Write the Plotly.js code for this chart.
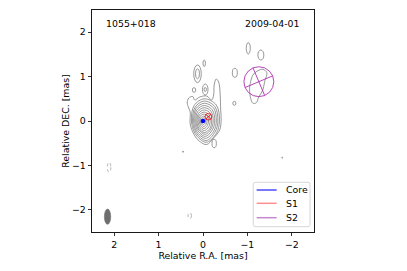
<!DOCTYPE html>
<html>
<head>
<meta charset="utf-8">
<script src="https://cdn.plot.ly/plotly-3.0.1.min.js"></script>
<style>html,body{margin:0;padding:0;background:#fff;}#plot{width:407px;height:271px;}</style>
</head>
<body>
<div id="plot"></div>
<script>
// ---- data (mas) ----
var sourceName = "1055+018";
var epoch = "2009-04-01";
var xTicks = [2, 1, 0, -1, -2];
var yTicks = [-2, -1, 0, 1, 2];

// core contour levels (outer -> inner), closed loops
var coreLvl0X = [0.074,-0.083,-0.196,-0.24,-0.252,-0.297,-0.353,-0.387,-0.398,-0.409,-0.375,-0.24,-0.083,0.074,0.209,0.288,0.288,0.321,0.355,0.321,0.231,0.187,0.074];
var coreLvl0Y = [0.54,0.563,0.473,0.586,0.81,0.946,0.878,0.586,0.248,0.023,-0.203,-0.383,-0.53,-0.46,-0.293,-0.068,0.203,0.293,0.405,0.518,0.552,0.473,0.54];
var coreLvl1X = [-0.03,-0.30,-0.37,-0.30,-0.07,0.18,0.26,0.20,-0.03];
var coreLvl1Y = [0.50,0.36,0,-0.28,-0.48,-0.28,0,0.35,0.50];
var coreLvl2X = [-0.03,-0.27,-0.335,-0.27,-0.07,0.165,0.235,0.175,-0.03];
var coreLvl2Y = [0.45,0.32,0,-0.25,-0.44,-0.25,0,0.315,0.45];
var coreLvl3X = [-0.03,-0.24,-0.30,-0.24,-0.06,0.147,0.21,0.158,-0.03];
var coreLvl3Y = [0.40,0.29,0,-0.23,-0.39,-0.23,0,0.28,0.40];
var coreLvl4X = [-0.03,-0.21,-0.265,-0.21,-0.05,0.13,0.185,0.14,-0.03];
var coreLvl4Y = [0.35,0.25,0,-0.20,-0.345,-0.20,0,0.245,0.35];
var coreLvl5X = [-0.03,-0.18,-0.23,-0.18,-0.05,0.11,0.16,0.12,-0.03];
var coreLvl5Y = [0.30,0.22,0,-0.18,-0.30,-0.18,0,0.21,0.30];
var coreLvl6X = [-0.03,-0.16,-0.195,-0.16,-0.04,0.095,0.135,0.10,-0.03];
var coreLvl6Y = [0.25,0.18,0,-0.16,-0.26,-0.16,0,0.175,0.25];
var coreLvl7X = [-0.03,-0.13,-0.16,-0.13,-0.03,0.077,0.11,0.083,-0.03];
var coreLvl7Y = [0.20,0.144,0,-0.13,-0.215,-0.13,0,0.14,0.20];
var coreLvl8X = [-0.03,-0.10,-0.125,-0.10,-0.025,0.06,0.085,0.064,-0.03];
var coreLvl8Y = [0.155,0.112,0,-0.10,-0.17,-0.10,0,0.11,0.155];
var coreLvl9X = [-0.02,-0.072,-0.09,-0.072,-0.018,0.042,0.06,0.045,-0.02];
var coreLvl9Y = [0.11,0.08,0,-0.075,-0.125,-0.075,0,0.077,0.11];
var coreLvl10X = [-0.01,-0.048,-0.06,-0.048,-0.012,0.028,0.04,0.03,-0.01];
var coreLvl10Y = [0.07,0.05,0,-0.048,-0.08,-0.048,0,0.049,0.07];

// contour near S2
var jetLoopX = [-1.065,-1.124,-1.236,-1.348,-1.438,-1.387,-1.348,-1.258,-1.2,-1.124,-1.065,-1.049,-1.065];
var jetLoopY = [0.849,1.036,1.133,1.164,1.088,0.885,0.698,0.547,0.412,0.399,0.547,0.736,0.849];

// small contour islands: centre and half-sizes (mas); dashed = negative level
var islandCX = [-1.02,-1.303,-0.717,-0.706,-0.027,0.124,0.124,0.202,-0.05,-0.05,-0.252,0.449,-1.784,2.115,0.299];
var islandCY = [1.637,1.486,1.086,0.399,1.30,1.063,1.063,0.698,0.709,0.71,-0.507,-0.691,-0.827,-1.043,-2.133];
var islandRX = [0.045,0.067,0.056,0.034,0.027,0.085,0.045,0.038,0.063,0.027,0.049,0.01,0.01,0.04,0.038];
var islandRY = [0.128,0.113,0.101,0.045,0.074,0.198,0.113,0.052,0.124,0.045,0.095,0.015,0.012,0.113,0.068];
var islandDashed = [0,0,0,0,0,0,0,0,0,0,0,0,0,1,1];

// model components
var compNames = ["Core", "S1", "S2"];
var legendColors = ["#4b4bff", "#ff9090", "#c488cc"];
var coreX = [0.0], coreY = [0.0];
var s1CX = -0.121, s1CY = 0.097, s1R = 0.075;
var s1CrossX = [-0.068,-0.174,null,-0.174,-0.068];
var s1CrossY = [0.15,0.044,null,0.15,0.044];
var s2CX = -1.258, s2CY = 0.885, s2R = 0.337;
var s2CrossX = [-1.127,-1.389,null,-1.568,-0.948];
var s2CrossY = [1.195,0.575,null,1.016,0.754];

// restoring beam
var beamCX = 2.15, beamCY = -2.155, beamRX = 0.072, beamRY = 0.173;

// ---- build ----
var contourColor = "rgb(125,125,125)";
var levelsX = [coreLvl0X,coreLvl1X,coreLvl2X,coreLvl3X,coreLvl4X,coreLvl5X,coreLvl6X,coreLvl7X,coreLvl8X,coreLvl9X,coreLvl10X,jetLoopX];
var levelsY = [coreLvl0Y,coreLvl1Y,coreLvl2Y,coreLvl3Y,coreLvl4Y,coreLvl5Y,coreLvl6Y,coreLvl7Y,coreLvl8Y,coreLvl9Y,coreLvl10Y,jetLoopY];
var traces = [];
for (var i = 0; i < levelsX.length; i++) {
  traces.push({x: levelsX[i], y: levelsY[i], type: "scatter", mode: "lines",
    line: {color: contourColor, width: 0.8, shape: "spline", smoothing: 1.0},
    showlegend: false, hoverinfo: "skip"});
}
traces.push({x: s1CrossX, y: s1CrossY, type: "scatter", mode: "lines", name: "S1",
  line: {color: "red", width: 0.8}, showlegend: false, hoverinfo: "skip"});
traces.push({x: s2CrossX, y: s2CrossY, type: "scatter", mode: "lines", name: "S2",
  line: {color: "#b030b0", width: 0.9}, showlegend: false, hoverinfo: "skip"});
traces.push({x: coreX, y: coreY, type: "scatter", mode: "markers", name: "Core",
  marker: {color: "blue", size: 4.5}, showlegend: false, hoverinfo: "skip"});

var shapes = [];
for (var j = 0; j < islandCX.length; j++) {
  shapes.push({type: "circle", xref: "x", yref: "y",
    x0: islandCX[j] - islandRX[j], x1: islandCX[j] + islandRX[j],
    y0: islandCY[j] - islandRY[j], y1: islandCY[j] + islandRY[j],
    line: {color: islandDashed[j] ? "rgb(160,160,160)" : contourColor, width: 0.8, dash: islandDashed[j] ? "dot" : "solid"}});
}
shapes.push({type: "circle", xref: "x", yref: "y",
  x0: s1CX - s1R, x1: s1CX + s1R, y0: s1CY - s1R, y1: s1CY + s1R,
  line: {color: "red", width: 0.8}});
shapes.push({type: "circle", xref: "x", yref: "y",
  x0: s2CX - s2R, x1: s2CX + s2R, y0: s2CY - s2R, y1: s2CY + s2R,
  line: {color: "#b030b0", width: 0.9}});
shapes.push({type: "circle", xref: "x", yref: "y",
  x0: beamCX - beamRX, x1: beamCX + beamRX, y0: beamCY - beamRY, y1: beamCY + beamRY,
  fillcolor: "rgb(110,110,110)", line: {color: "rgb(110,110,110)", width: 0.5}});

// legend box (paper coordinates)
var annotations = [
  {xref: "paper", yref: "paper", x: 0.054, y: 0.937, xanchor: "left", yanchor: "middle",
    text: sourceName, showarrow: false, font: {size: 9.4}},
  {xref: "paper", yref: "paper", x: 0.946, y: 0.937, xanchor: "right", yanchor: "middle",
    text: epoch, showarrow: false, font: {size: 9.4}}
];
var lgX0 = 0.7266, lgX1 = 0.982, lgY0 = 0.0239, lgY1 = 0.2239, lgR = 0.009;
shapes.push({type: "path", xref: "paper", yref: "paper",
  path: "M" + (lgX0 + lgR) + "," + lgY0 + " L" + (lgX1 - lgR) + "," + lgY0 +
        " Q" + lgX1 + "," + lgY0 + " " + lgX1 + "," + (lgY0 + lgR) +
        " L" + lgX1 + "," + (lgY1 - lgR) + " Q" + lgX1 + "," + lgY1 + " " + (lgX1 - lgR) + "," + lgY1 +
        " L" + (lgX0 + lgR) + "," + lgY1 + " Q" + lgX0 + "," + lgY1 + " " + lgX0 + "," + (lgY1 - lgR) +
        " L" + lgX0 + "," + (lgY0 + lgR) + " Q" + lgX0 + "," + lgY0 + " " + (lgX0 + lgR) + "," + lgY0 + " Z",
  fillcolor: "rgba(255,255,255,0.85)", line: {color: "#cccccc", width: 0.8}});
var lgRowY = [0.1892, 0.1293, 0.0644];
for (var k = 0; k < compNames.length; k++) {
  shapes.push({type: "line", xref: "paper", yref: "paper", x0: 0.7416, x1: 0.8318,
    y0: lgRowY[k], y1: lgRowY[k], line: {color: legendColors[k], width: 1.5}});
  annotations.push({xref: "paper", yref: "paper", x: 0.8649, y: lgRowY[k], xanchor: "left",
    yanchor: "middle", text: compNames[k], showarrow: false, font: {size: 9.4}});
}

var fontFam = "DejaVu Sans, sans-serif";
var layout = {
  width: 407, height: 271,
  margin: {l: 92, r: 93, t: 10, b: 39, pad: 0},
  paper_bgcolor: "#fff", plot_bgcolor: "#fff",
  font: {family: fontFam, size: 9.4, color: "#000"},
  showlegend: false,
  xaxis: {range: [2.5, -2.5], tickvals: xTicks, ticks: "outside", ticklen: 3.5, tickwidth: 0.8,
    tickcolor: "#000", showline: true, linecolor: "#000", linewidth: 0.9, mirror: true,
    showgrid: false, zeroline: false, tickfont: {size: 9.4},
    title: {text: "Relative R.A. [mas]", font: {size: 9.4}, standoff: 2}},
  yaxis: {range: [-2.5, 2.5], tickvals: yTicks, ticks: "outside", ticklen: 3.5, tickwidth: 0.8,
    tickcolor: "#000", showline: true, linecolor: "#000", linewidth: 0.9, mirror: true,
    showgrid: false, zeroline: false, tickfont: {size: 9.4},
    title: {text: "Relative DEC. [mas]", font: {size: 9.4}, standoff: 0}},
  shapes: shapes,
  annotations: annotations
};
Plotly.newPlot("plot", traces, layout, {staticPlot: true, displayModeBar: false});
</script>
</body>
</html>
